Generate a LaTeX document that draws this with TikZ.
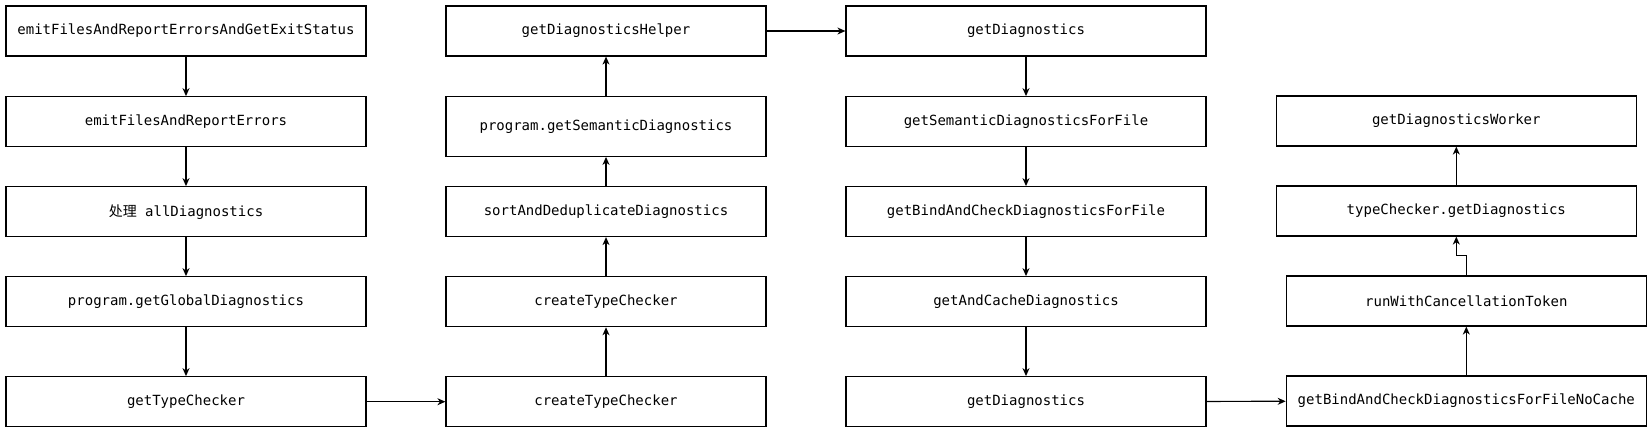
\documentclass[tikz,border=0pt]{standalone}
\usepackage{fontspec}
\setmonofont{DejaVu Sans Mono}
\newfontfamily\cjk{Noto Sans CJK SC}
\usetikzlibrary{arrows.meta}

\begin{document}
\begin{tikzpicture}[x=1pt, y=-1pt,
  box/.style={draw, line width=1.2pt, minimum height=50pt, inner sep=0pt,
    font=\ttfamily\fontsize{14}{16}\selectfont},
  wide/.style={box, minimum width=360pt},
  narrow/.style={box, minimum width=320pt},
  link/.style={line width=1.2pt, -{Stealth[length=8pt,width=7pt,inset=2.5pt]}}]
	\useasboundingbox (0,0) rectangle (1651,432);

	% first column
	\node[wide] (emitExit) at (186,31) {emitFilesAndReportErrorsAndGetExitStatus};
	\node[wide] (emitReport) at (186,121.7) {emitFilesAndReportErrors};
	\node[wide] (handleAll) at (186,211.7) {{\cjk 处理} allDiagnostics};
	\node[wide] (globalDiag) at (186,301.7) {program.getGlobalDiagnostics};
	\node[wide] (getChecker) at (186,401.7) {getTypeChecker};

	% second column
	\node[narrow] (diagHelper) at (606,31) {getDiagnosticsHelper};
	\node[narrow, minimum height=60pt] (semDiag) at (606,126.3) {program.getSemanticDiagnostics};
	\node[narrow] (sortDedup) at (606,211.5) {sortAndDeduplicateDiagnostics};
	\node[narrow] (createUpper) at (606,301.7) {createTypeChecker};
	\node[narrow] (createLower) at (606,401.7) {createTypeChecker};

	% third column
	\node[wide] (getDiagTop) at (1026,31) {getDiagnostics};
	\node[wide] (semForFile) at (1026,121.7) {getSemanticDiagnosticsForFile};
	\node[wide] (bindForFile) at (1026,211.7) {getBindAndCheckDiagnosticsForFile};
	\node[wide] (cacheDiag) at (1026,301.7) {getAndCacheDiagnostics};
	\node[wide] (getDiagLow) at (1026,401.7) {getDiagnostics};

	% fourth column
	\node[wide] (diagWorker) at (1456.3,121) {getDiagnosticsWorker};
	\node[wide] (checkerDiag) at (1456.3,211) {typeChecker.getDiagnostics};
	\node[wide] (runToken) at (1466.3,301) {runWithCancellationToken};
	\node[wide] (noCache) at (1466.3,401) {getBindAndCheckDiagnosticsForFileNoCache};

	% calls
	\draw[link] (emitExit) -- (emitReport);
	\draw[link] (emitReport) -- (handleAll);
	\draw[link] (handleAll) -- (globalDiag);
	\draw[link] (globalDiag) -- (getChecker);
	\draw[link] (getChecker) -- (createLower);
	\draw[link] (createLower) -- (createUpper);
	\draw[link] (createUpper) -- (sortDedup);
	\draw[link] (sortDedup) -- (semDiag);
	\draw[link] (semDiag) -- (diagHelper);
	\draw[link] (diagHelper) -- (getDiagTop);
	\draw[link] (getDiagTop) -- (semForFile);
	\draw[link] (semForFile) -- (bindForFile);
	\draw[link] (bindForFile) -- (cacheDiag);
	\draw[link] (cacheDiag) -- (getDiagLow);
	\draw[link] (getDiagLow) -- (noCache);
	\draw[link] (noCache) -- (runToken);
	\draw[link] (runToken.north) -- ++(0,-20) -| (checkerDiag.south);
	\draw[link] (checkerDiag) -- (diagWorker);
\end{tikzpicture}
\end{document}
